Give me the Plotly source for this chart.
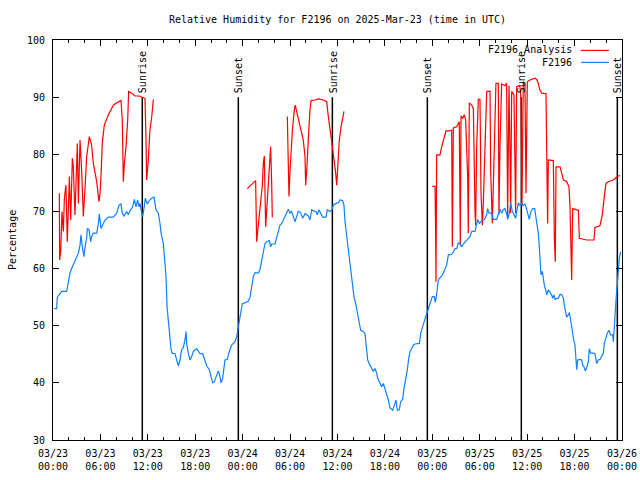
import pandas as pd
import plotly.graph_objects as go

# ---------------- data (hours after 2025-03-23 00:00 UTC) ----------------
obs_hours = [0.17, 0.46, 0.55, 0.80, 1.10, 1.73, 1.94, 2.15, 2.36, 2.57,
             2.78, 2.99, 3.21, 3.42, 3.54, 3.71, 3.92, 4.05, 4.26, 4.34,
             4.55, 4.77, 4.89, 5.10, 5.53, 5.74, 5.86, 6.07, 6.24, 6.58,
             7.00, 7.63, 8.06, 8.35, 8.60, 8.77, 8.98, 9.32, 9.53, 9.74,
             10.08, 10.29, 10.50, 10.71, 10.88, 11.01, 11.22, 11.35, 11.51, 11.68,
             11.94, 12.19, 12.48, 12.78, 13.03, 13.33, 13.54, 13.67, 13.96, 14.17,
             14.30, 14.43, 14.60, 14.72, 14.93, 15.06, 15.44, 15.65, 15.86, 16.07,
             16.28, 16.49, 16.70, 16.83, 16.91, 17.12, 17.34, 17.55, 17.76, 18.18,
             18.39, 18.60, 18.94, 19.23, 19.44, 19.78, 19.99, 20.20, 20.41, 20.62,
             20.92, 21.13, 21.26, 21.47, 21.64, 21.76, 22.06, 22.31, 22.61, 22.82,
             23.03, 23.24, 23.45, 23.66,
             23.75, 23.96, 24.29, 24.72, 24.93, 25.14, 25.35, 25.56, 25.98, 26.19,
             26.40, 26.61, 26.83, 27.04, 27.37, 27.54, 27.67, 28.09, 28.30, 28.51,
             28.72, 28.94, 29.15, 29.36, 29.57, 29.78, 29.99, 30.20, 30.41, 30.62,
             30.83, 31.04, 31.34, 31.59, 31.89, 32.10, 32.31, 32.52, 32.73, 32.94,
             33.28, 33.45, 33.66, 33.87, 34.12, 34.55, 34.71, 35.05, 35.31, 35.47,
             35.81, 36.11, 36.32, 36.65, 36.82, 36.95, 37.07, 37.24, 37.41, 37.58,
             37.75, 37.92, 38.09, 38.34, 38.55, 38.77, 38.93, 39.27, 39.48, 39.69,
             39.82, 40.11, 40.32, 40.53, 40.75, 40.96, 41.08, 41.25, 41.37, 41.59,
             41.80, 42.01, 42.22, 42.43, 42.64, 42.98, 43.27, 43.40, 43.57, 43.82,
             43.99, 44.24, 44.41, 44.63, 44.84, 45.01, 45.18, 45.39, 45.60, 45.81,
             46.10, 46.36, 46.53, 46.74, 46.95, 47.16,
             47.37, 47.58, 47.79, 48.00, 48.25, 48.38, 48.55, 48.76, 48.97, 49.18,
             49.39, 49.60, 49.81, 50.03, 50.45, 50.66, 50.87, 51.08, 51.29, 51.50,
             51.71, 51.92, 52.13, 52.34, 52.55, 52.76, 52.98, 53.40, 53.61, 53.74,
             53.95, 54.16, 54.33, 54.58, 54.88, 55.00, 55.17, 55.51, 55.72, 56.14,
             56.35, 56.56, 56.77, 56.98, 57.19, 57.40, 57.53, 57.74, 57.91, 58.12,
             58.33, 58.54, 58.67, 58.88, 59.09, 59.30, 59.51, 59.72, 59.85, 60.02,
             60.15, 60.27, 60.48, 60.70, 60.95, 61.12, 61.29, 61.41, 61.54, 61.62,
             61.75, 61.92, 62.05, 62.17, 62.34, 62.47, 62.68, 62.89, 63.10, 63.23,
             63.40, 63.52, 63.73, 63.94, 64.16, 64.37, 64.58, 64.70, 64.87, 65.00,
             65.21, 65.34, 65.50, 65.63, 65.76, 65.93, 66.05, 66.14, 66.27, 66.39,
             66.69, 66.90, 67.02, 67.19, 67.36, 67.53, 67.74, 67.87, 68.03, 68.37,
             68.58, 68.79, 69.00, 69.21, 69.42, 69.64, 69.76, 69.97, 70.14, 70.35,
             70.56, 70.82, 70.90, 71.03, 71.11, 71.24, 71.41, 71.53, 71.66, 71.83]
obs_values = [53.0, 53.0, 55.0, 55.4, 56.0, 56.0, 58.0, 59.2, 60.0, 60.6,
              61.5, 62.0, 62.7, 64.1, 65.9, 63.8, 62.1, 63.8, 65.3, 67.0,
              66.8, 64.7, 65.6, 66.2, 66.2, 67.9, 69.6, 67.0, 67.6, 68.5,
              69.0, 69.0, 69.7, 71.1, 71.3, 69.7, 69.2, 70.0, 69.4, 70.1,
              70.8, 72.1, 70.8, 72.0, 70.8, 71.4, 69.7, 69.1, 70.5, 72.3,
              71.3, 71.9, 72.3, 72.5, 70.3, 69.7, 67.9, 66.2, 64.4, 61.5,
              58.6, 53.3, 50.4, 48.7, 46.0, 45.2, 45.1, 44.0, 43.0, 44.0,
              45.8, 46.2, 47.5, 49.0, 46.9, 45.2, 44.0, 44.6, 45.5, 46.0,
              45.5, 45.1, 45.1, 43.7, 43.0, 42.3, 41.1, 40.0, 40.2, 41.1,
              42.1, 41.1, 40.0, 40.8, 42.5, 44.0, 44.1, 45.5, 46.6, 46.9,
              47.2, 48.1, 49.8, 51.0,
              52.2, 53.9, 54.0, 54.3, 55.0, 57.1, 58.6, 59.3, 59.2, 59.8,
              61.5, 62.9, 64.4, 64.7, 64.9, 63.8, 64.3, 64.3, 65.6, 66.8,
              67.6, 67.9, 68.5, 69.1, 69.7, 70.4, 69.7, 70.0, 69.1, 68.2,
              69.1, 70.0, 69.8, 68.8, 69.6, 69.4, 69.2, 68.5, 70.3, 70.1,
              70.0, 69.4, 70.3, 69.7, 69.0, 69.0, 70.3, 70.0, 70.3, 71.1,
              71.4, 71.5, 72.0, 71.9, 71.1, 68.2, 66.8, 64.7, 62.9, 61.2,
              59.2, 56.8, 55.0, 53.6, 52.2, 50.4, 49.2, 49.0, 48.6, 45.8,
              44.0, 43.1, 42.5, 42.0, 42.5, 41.7, 40.8, 40.2, 39.8, 39.3,
              39.9, 39.0, 38.2, 37.0, 35.6, 35.2, 36.4, 37.0, 35.2, 35.3,
              36.7, 37.1, 39.0, 40.5, 42.3, 44.3, 45.5, 46.0, 46.6, 46.8,
              46.9, 46.9, 48.7, 49.8, 50.7, 51.6,
              52.4, 53.3, 54.3, 55.1, 55.1, 54.1, 55.6, 58.0, 58.4, 58.7,
              59.2, 59.8, 60.6, 62.4, 62.5, 62.9, 63.5, 63.5, 64.5, 64.4,
              63.8, 64.3, 64.7, 65.0, 65.3, 65.6, 66.5, 66.5, 67.9, 68.6,
              67.9, 68.2, 68.5, 68.5, 69.4, 70.5, 69.7, 69.7, 68.6, 68.6,
              69.7, 70.4, 69.7, 70.3, 70.5, 69.6, 68.6, 69.7, 71.5, 70.0,
              69.4, 68.8, 70.0, 71.5, 71.0, 71.4, 71.1, 71.3, 70.8, 70.0,
              69.1, 68.6, 70.0, 70.5, 70.5, 69.1, 67.9, 66.2, 63.8, 61.2,
              58.9, 59.5, 58.0, 57.1, 56.3, 55.4, 56.3, 55.8, 55.4, 54.8,
              55.4, 54.6, 54.8, 54.8, 55.5, 55.4, 54.8, 53.6, 52.2, 51.5,
              51.9, 52.3, 51.0, 49.8, 48.1, 47.2, 46.6, 44.0, 42.3, 44.0,
              44.1, 44.0, 43.1, 42.8, 42.1, 42.6, 43.7, 46.0, 45.2, 45.2,
              45.1, 43.4, 44.0, 44.1, 44.6, 45.2, 46.9, 48.1, 48.7, 49.2,
              48.4, 48.4, 47.2, 49.8, 52.4, 54.5, 57.4, 59.8, 61.8, 62.9]

ana1_hours = [0.80, 0.84, 0.97, 1.14, 1.31, 1.44, 1.64, 1.81, 2.07, 2.24,
              2.45, 2.57, 2.78, 3.08, 3.21, 3.42, 3.63, 3.84, 4.05, 4.26,
              4.60, 4.89, 5.10, 5.31, 5.53, 5.82, 5.95, 6.07, 6.24, 6.49,
              6.71, 7.00, 7.34, 7.63, 8.06, 8.60, 8.77, 8.90, 9.03, 9.24,
              9.45, 9.57, 9.95, 10.37, 10.92, 11.22, 11.64, 11.77, 11.85, 12.06,
              12.27, 12.48, 12.70]
ana1_values = [73.2, 61.5, 63.0, 70.0, 66.5, 72.3, 74.6, 64.7, 76.1, 68.5,
               79.3, 78.0, 69.4, 81.9, 71.4, 82.5, 77.0, 69.1, 74.0, 79.6,
               83.1, 81.6, 78.4, 76.8, 75.2, 71.7, 73.2, 76.0, 82.0, 85.1,
               86.0, 86.9, 87.8, 88.6, 89.0, 89.4, 86.0, 75.2, 78.4, 81.3,
               86.0, 91.0, 90.7, 90.2, 90.2, 90.0, 89.8, 82.5, 75.5, 79.0,
               84.3, 86.4, 89.6]
ana2_hours = [24.59, 25.64, 25.77, 25.90, 26.11, 26.28, 26.49, 26.61, 26.74, 26.91,
              27.12, 27.37, 27.54, 27.67, 27.75]
ana2_values = [74.0, 75.4, 64.7, 66.5, 70.0, 72.7, 74.6, 78.4, 79.7, 67.3,
               72.5, 78.0, 81.3, 75.0, 69.0]
ana3_hours = [29.65, 29.78, 29.86, 29.99, 30.12, 30.29, 30.54, 30.66, 30.83, 31.04,
              31.25, 31.46, 31.67, 31.89, 31.97, 32.10, 32.22, 32.39, 32.52, 32.65,
              33.15, 33.57, 34.21, 34.63, 34.84, 35.05, 35.18, 35.35, 35.47, 35.60,
              35.77, 35.90, 36.06, 36.23, 36.45, 36.66, 36.82]
ana3_values = [86.6, 79.6, 72.6, 77.0, 81.3, 84.2, 87.8, 88.6, 87.5, 86.3,
               84.8, 83.7, 82.5, 79.6, 74.6, 77.0, 81.7, 84.8, 87.8, 89.4,
               89.5, 89.7, 89.5, 89.2, 86.6, 84.8, 83.1, 81.3, 80.2, 78.4,
               76.7, 74.6, 78.4, 82.5, 84.8, 86.6, 87.5]
ana4_hours = [48.00, 48.34, 48.42, 48.46, 48.55, 48.97, 49.18, 49.39, 49.73, 50.15,
              50.45, 50.53, 50.66, 51.08, 51.41, 51.54, 51.63, 51.84, 52.05, 52.22,
              52.47, 52.55, 52.68, 52.98, 53.19, 53.40, 53.48, 53.61, 53.82, 54.03,
              54.16, 54.33, 54.45, 54.88, 55.30, 55.38, 55.51, 55.59, 55.72, 56.05,
              56.35, 56.43, 56.56, 56.77, 57.19, 57.40, 57.53, 57.70, 57.82, 57.91,
              58.04, 58.33, 58.54, 58.67, 58.92, 59.09, 59.21, 59.34, 59.51, 59.72,
              59.85, 60.02, 60.36, 60.99, 61.20, 61.41, 61.62, 61.83, 62.38, 62.47,
              62.59, 62.68, 63.31, 63.44, 63.56, 63.65, 64.16, 64.37, 64.58, 65.00,
              65.29, 65.42, 65.50, 65.63, 65.76, 65.93, 66.48, 66.60, 67.11, 67.53,
              68.45, 68.58, 69.21, 69.34, 69.51, 69.76, 69.97, 70.27, 70.90, 71.41,
              71.74]
ana4_values = [74.4, 74.4, 66.2, 57.7, 79.9, 79.9, 81.3, 82.5, 84.1, 84.1,
               84.2, 63.8, 84.6, 84.8, 85.7, 64.0, 86.7, 86.3, 86.9, 86.0,
               76.1, 66.2, 89.0, 88.6, 88.0, 70.0, 67.6, 81.3, 89.6, 89.6,
               73.2, 67.6, 71.4, 91.0, 91.0, 77.3, 71.0, 67.9, 74.6, 92.4,
               92.4, 69.4, 81.3, 92.3, 92.0, 92.4, 69.1, 92.0, 81.3, 69.7,
               91.0, 90.4, 69.7, 91.8, 92.0, 91.8, 89.6, 70.8, 92.7, 92.4,
               73.2, 92.7, 93.0, 93.3, 93.1, 92.4, 91.2, 90.7, 90.6, 79.6,
               67.9, 79.0, 78.9, 65.4, 61.2, 77.8, 77.8, 76.7, 75.5, 75.2,
               74.3, 70.8, 62.0, 58.0, 70.5, 70.4, 70.2, 65.3, 65.1, 65.0,
               65.0, 67.2, 67.5, 68.4, 69.4, 72.6, 74.9, 75.2, 75.5, 76.1,
               76.3]

sun_hours = [11.30, 23.45, 35.35, 47.37, 59.26, 71.41]
sun_labels = ["Sunrise", "Sunset", "Sunrise", "Sunset", "Sunrise", "Sunset"]
sun_line_bottom = 30
sun_line_top = 90

tick_hours = [0, 6, 12, 18, 24, 30, 36, 42, 48, 54, 60, 66, 72]
y_ticks = [30, 40, 50, 60, 70, 80, 90, 100]

title_text = "Relative Humidity for F2196 on 2025-Mar-23 (time in UTC)"
ylabel_text = "Percentage"
legend_names = ["F2196_Analysis", "F2196"]
colors = ["#ff0000", "#1080ff"]

# ---------------- build ----------------
for h, v in [(obs_hours, obs_values), (ana1_hours, ana1_values), (ana2_hours, ana2_values),
             (ana3_hours, ana3_values), (ana4_hours, ana4_values)]:
    assert len(h) == len(v), (len(h), len(v))

base = pd.Timestamp("2025-03-23 00:00")


def to_time(hours):
    return [base + pd.Timedelta(hours=h) for h in hours]


ana_x, ana_y = [], []
for hs, vs in [(ana1_hours, ana1_values), (ana2_hours, ana2_values),
               (ana3_hours, ana3_values), (ana4_hours, ana4_values)]:
    if ana_x:
        ana_x.append(None)
        ana_y.append(None)
    ana_x += to_time(hs)
    ana_y += vs

FONT = "DejaVu Sans Mono"
fig = go.Figure()

# sunrise / sunset lines
sx, sy = [], []
for t in to_time(sun_hours):
    sx += [t, t, None]
    sy += [sun_line_bottom, sun_line_top, None]
fig.add_trace(go.Scatter(x=sx, y=sy, mode="lines", line=dict(color="black", width=1.5),
                         hoverinfo="skip", showlegend=False))

fig.add_trace(go.Scatter(x=ana_x, y=ana_y, mode="lines", name=legend_names[0],
                         line=dict(color=colors[0], width=1.2), connectgaps=False,
                         showlegend=False))
fig.add_trace(go.Scatter(x=to_time(obs_hours), y=obs_values, mode="lines", name=legend_names[1],
                         line=dict(color=colors[1], width=1.2), showlegend=False))

tick_vals = to_time(tick_hours)
tick_text = [t.strftime("%m/%d") + "<br>" + t.strftime("%H:%M") for t in tick_vals]

axis_common = dict(showline=True, linecolor="black", linewidth=1, mirror="ticks",
                   ticks="inside", ticklen=6, tickcolor="black", tickwidth=1,
                   showgrid=False, zeroline=False, automargin=False,
                   tickfont=dict(family=FONT, size=10, color="black"))

fig.update_xaxes(range=[tick_vals[0], tick_vals[-1]], tickmode="array",
                 tickvals=tick_vals, ticktext=tick_text, ticklabelstandoff=4,
                 minor=dict(ticks="inside", ticklen=3, tickcolor="black",
                            tick0=tick_vals[0], dtick=2 * 3600 * 1000),
                 **axis_common)
fig.update_yaxes(range=[30, 100], tickmode="array", tickvals=y_ticks,
                 ticklabelstandoff=5, **axis_common)

annotations = []
for t, lab in zip(to_time(sun_hours), sun_labels):
    annotations.append(dict(x=t, y=sun_line_top + 0.4, xref="x", yref="y", text=lab,
                            textangle=-90, showarrow=False, xanchor="center",
                            yanchor="bottom", xshift=1,
                            font=dict(family=FONT, size=10, color="black")))

# legend drawn gnuplot-style (text then sample line)
leg_y = [0.974, 0.944]
shapes = []
for name, col, yy in zip(legend_names, colors, leg_y):
    annotations.append(dict(x=0.9156, y=yy, xref="paper", yref="paper", text=name,
                            showarrow=False, xanchor="right", yanchor="middle",
                            font=dict(family=FONT, size=10, color="black")))
    shapes.append(dict(type="line", xref="paper", yref="paper", x0=0.928, x1=0.977,
                       y0=yy, y1=yy, line=dict(color=col, width=1.2)))

annotations.append(dict(x=-0.072, y=0.5, xref="paper", yref="paper", text=ylabel_text,
                        textangle=-90, showarrow=False, xanchor="center", yanchor="middle",
                        font=dict(family=FONT, size=10, color="black")))

fig.update_layout(
    width=640, height=480,
    margin=dict(l=53, r=18, t=40, b=40),
    paper_bgcolor="white", plot_bgcolor="white",
    title=dict(text=title_text, x=0.5, xref="paper", y=1 - 19 / 480, yref="container",
               xanchor="center", yanchor="middle",
               font=dict(family=FONT, size=10, color="black")),
    annotations=annotations, shapes=shapes,
    showlegend=False,
)

# remove the default page margin so the 640x480 figure fills the window exactly
fig.write_html("out.html",
               config={"displayModeBar": False},
               post_script="document.body.style.margin='0';document.body.style.overflow='hidden';")
